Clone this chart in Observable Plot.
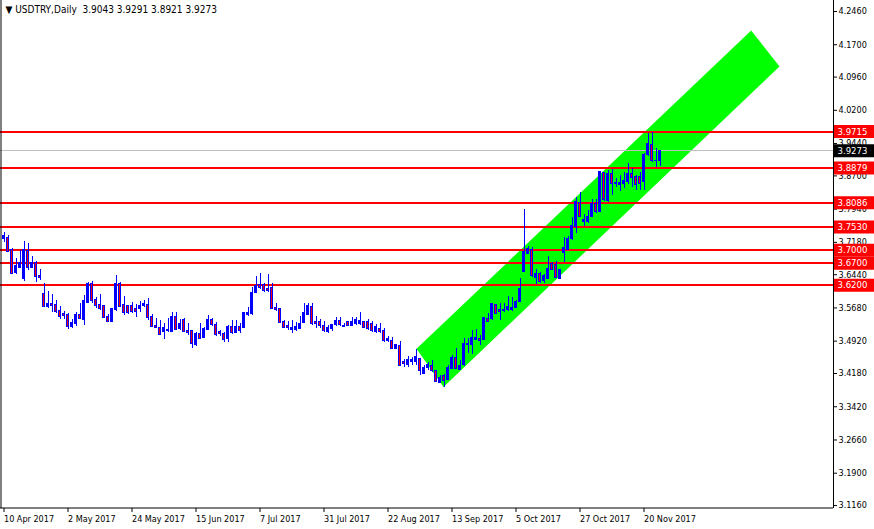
<!DOCTYPE html>
<html><head><meta charset="utf-8">
<script src="https://cdn.jsdelivr.net/npm/d3@7"></script>
<script src="https://cdn.jsdelivr.net/npm/@observablehq/plot@0.6"></script>
<style>html,body{margin:0;padding:0;background:#fff;overflow:hidden}</style>
</head><body><div id="chart"></div>
<script>
// ---- data (daily USDTRY bars, index 0 = 10 Apr 2017) ----
const openP = [3.7261,3.7284,3.6994,3.6476,3.6591,3.6347,3.6972,3.6591,3.6705,3.6400,
 3.6004,3.5699,3.5775,3.5737,3.5600,3.5532,3.5524,3.5242,3.5303,3.5524,
 3.5410,3.5791,3.6217,3.5852,3.5737,3.5714,3.5463,3.5356,3.5623,3.6217,
 3.5753,3.5714,3.5714,3.5661,3.5646,3.5722,3.5737,3.5463,3.5257,3.5227,
 3.5128,3.5143,3.5128,3.5463,3.5204,3.5394,3.5143,3.5158,3.4838,3.5090,
 3.4990,3.5181,3.5410,3.5295,3.5120,3.5073,3.4974,3.5241,3.5104,3.5241,
 3.5218,3.5508,3.5546,3.6018,3.6201,3.6216,3.6117,3.6125,3.5675,3.5645,
 3.5348,3.5271,3.5165,3.5165,3.5203,3.5332,3.5523,3.5698,3.5348,3.5348,
 3.5256,3.5127,3.5203,3.5279,3.5371,3.5271,3.5348,3.5271,3.5317,3.5317,
 3.5348,3.5348,3.5317,3.5127,3.5203,3.5150,3.4913,3.4913,3.4746,3.4799,
 3.4441,3.4365,3.4441,3.4441,3.4502,3.4159,3.4312,3.4342,3.4228,3.3961,
 3.4113,3.4022,3.4289,3.4540,3.4266,3.4365,3.4822,3.4837,3.4952,3.4975,
 3.4936,3.5432,3.5432,3.5737,3.5622,3.5622,3.5638,3.5638,3.5683,3.5813,
 3.6499,3.6918,3.7010,3.6370,3.6461,3.6294,3.6347,3.6674,3.6652,3.6347,
 3.6934,3.7010,3.7261,3.7528,3.8076,3.7643,3.7643,3.7757,3.8062,3.7871,
 3.8763,3.8123,3.8733,3.8535,3.8481,3.8519,3.8557,3.8733,3.8672,3.8672,
 3.8557,3.9167,3.9418,3.9052,3.9043];
const highP = [3.7398,3.7337,3.7048,3.6804,3.6995,3.7200,3.7147,3.6857,3.6743,3.6560,
 3.6233,3.6057,3.5981,3.5852,3.5714,3.5600,3.5562,3.5417,3.5585,3.5775,
 3.5966,3.6255,3.6286,3.5928,3.5989,3.5737,3.5524,3.5661,3.6423,3.6255,
 3.5951,3.5737,3.5798,3.5753,3.5829,3.5852,3.5890,3.5524,3.5448,3.5394,
 3.5333,3.5432,3.5570,3.5570,3.5417,3.5432,3.5318,3.5158,3.5113,3.5318,
 3.5242,3.5509,3.5448,3.5341,3.5160,3.5127,3.5279,3.5393,3.5393,3.5317,
 3.5561,3.5683,3.6155,3.6407,3.6460,3.6232,3.6445,3.6232,3.5774,3.5645,
 3.5393,3.5378,3.5393,3.5355,3.5485,3.5774,3.5774,3.5790,3.5485,3.5409,
 3.5371,3.5279,3.5302,3.5470,3.5470,3.5317,3.5371,3.5454,3.5454,3.5584,
 3.5355,3.5409,3.5371,3.5302,3.5332,3.5203,3.5028,3.5012,3.4845,3.4921,
 3.4494,3.4571,3.4555,3.4731,3.4502,3.4365,3.4441,3.4479,3.4251,3.4136,
 3.4152,3.4365,3.4594,3.4746,3.4479,3.4975,3.4975,3.5165,3.5180,3.5051,
 3.5470,3.5546,3.5775,3.5737,3.5775,3.5775,3.5942,3.5912,3.5851,3.6347,
 3.7924,3.7086,3.7056,3.6553,3.6499,3.6446,3.6857,3.6728,3.6751,3.6553,
 3.7299,3.7315,3.7756,3.8214,3.8328,3.7818,3.7910,3.8154,3.8154,3.8786,
 3.8786,3.8824,3.8839,3.8634,3.8710,3.8786,3.8992,3.8862,3.8710,3.8786,
 3.9205,3.9662,3.9700,3.9319,3.9291];
const lowP = [3.7185,3.6956,3.6461,3.6438,3.6591,3.6293,3.6537,3.6591,3.6271,3.6309,
 3.5699,3.5676,3.5585,3.5547,3.5410,3.5410,3.5181,3.5204,3.5257,3.5417,
 3.5280,3.5791,3.5775,3.5661,3.5623,3.5448,3.5356,3.5356,3.5600,3.5699,
 3.5509,3.5524,3.5547,3.5471,3.5585,3.5699,3.5394,3.5242,3.5204,3.5066,
 3.4960,3.5112,3.5112,3.5181,3.5166,3.5112,3.5051,3.4747,3.4808,3.4975,
 3.4975,3.5166,3.5265,3.5028,3.5030,3.4898,3.4898,3.5073,3.5104,3.5089,
 3.5218,3.5485,3.5508,3.6018,3.6094,3.6041,3.6026,3.5637,3.5599,3.5332,
 3.5203,3.5165,3.5104,3.5150,3.5203,3.5332,3.5508,3.5279,3.5203,3.5203,
 3.5127,3.5104,3.5150,3.5256,3.5256,3.5226,3.5256,3.5256,3.5279,3.5279,
 3.5203,3.5165,3.5127,3.5104,3.5104,3.4898,3.4883,3.4723,3.4723,3.4330,
 3.4312,3.4312,3.4365,3.4365,3.4136,3.4159,3.4251,3.4213,3.3984,3.3946,
 3.3870,3.4022,3.4266,3.4289,3.4251,3.4342,3.4632,3.4616,3.4936,3.4822,
 3.4936,3.5356,3.5394,3.5546,3.5394,3.5584,3.5607,3.5607,3.5660,3.5800,
 3.6499,3.6918,3.6385,3.6217,3.6248,3.6233,3.6347,3.6537,3.6370,3.6347,
 3.6728,3.6994,3.7223,3.7375,3.7756,3.7544,3.7605,3.7742,3.7849,3.7871,
 3.8123,3.8100,3.8253,3.8443,3.8352,3.8405,3.8504,3.8443,3.8367,3.8367,
 3.8367,3.9144,3.9014,3.8900,3.8921];
const closeP = [3.7322,3.6956,3.6461,3.6629,3.6705,3.7010,3.6591,3.6705,3.6385,3.6362,
 3.5699,3.5760,3.5722,3.5585,3.5471,3.5493,3.5242,3.5333,3.5524,3.5417,
 3.5829,3.6233,3.5829,3.5722,3.5661,3.5448,3.5356,3.5646,3.6233,3.5699,
 3.5562,3.5562,3.5585,3.5585,3.5714,3.5760,3.5448,3.5242,3.5219,3.5066,
 3.5219,3.5181,3.5463,3.5181,3.5318,3.5128,3.5112,3.4861,3.5090,3.4975,
 3.5204,3.5410,3.5295,3.5066,3.5090,3.4936,3.5241,3.5104,3.5241,3.5150,
 3.5561,3.5561,3.6018,3.6171,3.6140,3.6064,3.6056,3.5660,3.5622,3.5332,
 3.5218,3.5218,3.5218,3.5241,3.5317,3.5561,3.5713,3.5302,3.5317,3.5256,
 3.5150,3.5226,3.5279,3.5371,3.5279,3.5241,3.5271,3.5355,3.5409,3.5378,
 3.5226,3.5203,3.5142,3.5241,3.5127,3.4913,3.4974,3.4746,3.4822,3.4350,
 3.4403,3.4479,3.4479,3.4555,3.4235,3.4312,3.4365,3.4235,3.3984,3.4075,
 3.4007,3.4312,3.4540,3.4289,3.4342,3.4860,3.4860,3.4997,3.4997,3.4921,
 3.5455,3.5356,3.5759,3.5546,3.5584,3.5607,3.5698,3.5683,3.5813,3.6103,
 3.6956,3.7032,3.6400,3.6461,3.6271,3.6400,3.6576,3.6553,3.6370,3.6537,
 3.7056,3.7261,3.7543,3.8099,3.7756,3.7681,3.7757,3.8062,3.7871,3.8786,
 3.8138,3.8733,3.8504,3.8504,3.8535,3.8573,3.8748,3.8656,3.8481,3.8504,
 3.9167,3.9434,3.9037,3.9030,3.9273];

const dateTickBars = [0,16,32,48,64,80,96,112,128,144,160];
const dateTickLabels = ["10 Apr 2017","2 May 2017","24 May 2017","15 Jun 2017","7 Jul 2017",
  "31 Jul 2017","22 Aug 2017","13 Sep 2017","5 Oct 2017","27 Oct 2017","20 Nov 2017"];
const priceTicks = [4.2460,4.1700,4.0960,4.0200,3.9440,3.8700,3.7940,3.7180,
  3.6440,3.5680,3.4920,3.4180,3.3420,3.2660,3.1900,3.1160];
const levelPrices = [3.9715,3.8879,3.8086,3.7530,3.7000,3.6700,3.6200];
const lastPrice = 3.9273;
const channelBars = [103.125,109.875,193.875,186.8];
const channelPrices = [3.4745,3.3872,4.1202,4.2026];
const symbolName = "USDTRY,Daily";
const headerValues = [3.9043,3.9291,3.8921,3.9273];

// ---- build ----
const bars = openP.map((o,i)=>({i, open:o, high:highP[i], low:lowP[i], close:closeP[i]}));
const channel = channelBars.map((b,k)=>({bar:b, price:channelPrices[k]}));
const BLUE = "#0000ff", RED = "#ff0000";
const W = 874, H = 529, mR = 41, mB = 21;
const pxPerBar = 4;
const xDom = [-3.5/pxPerBar, (W - mR - 3.5)/pxPerBar];
const xOuter = xDom[1] + mR/pxPerBar;
const yDom = [3.10925, 4.2712];
const fontFam = "'DejaVu Sans Condensed','DejaVu Sans',sans-serif";

const chart = Plot.plot({
  width: W, height: H,
  marginLeft: 0, marginRight: mR, marginTop: 0, marginBottom: mB,
  style: {fontFamily: fontFam, fontSize: "9px", background: "#ffffff", color: "#000000", overflow: "visible"},
  x: {domain: xDom, axis: null},
  y: {domain: yDom, axis: null},
  color: {type: "identity"},
  marks: [
    Plot.line(channel, {x: "bar", y: "price", fill: "#00ff00", stroke: "none"}),
    Plot.ruleY([lastPrice], {stroke: "#c0c0c0", strokeWidth: 1, shapeRendering: "crispEdges"}),
    Plot.ruleY(levelPrices, {stroke: RED, strokeWidth: 2, shapeRendering: "crispEdges"}),
    Plot.ruleX(bars, {x: "i", y1: "low", y2: "high", stroke: BLUE, strokeWidth: 1, shapeRendering: "crispEdges"}),
    Plot.rect(bars, {x1: d => d.i - 0.25, x2: d => d.i + 0.25, y1: "open", y2: "close",
      fill: d => d.close >= d.open ? BLUE : RED, stroke: BLUE, strokeWidth: 1, shapeRendering: "crispEdges"}),
    // frame
    Plot.ruleX([xDom[0]], {stroke: "#000", dx: 0.5}),
    Plot.ruleX([xDom[1]], {stroke: "#000"}),
    Plot.ruleY([yDom[0]], {stroke: "#000", dy: -0.5}),
    // axes
    Plot.axisY(priceTicks, {anchor: "right", tickSize: 3, tickPadding: 2, tickFormat: d => d.toFixed(4),
      fontSize: 9, label: null}),
    Plot.axisX(dateTickBars, {anchor: "bottom", tickSize: 4, tickPadding: 3, textAnchor: "start",
      tickFormat: (d) => dateTickLabels[dateTickBars.indexOf(d)], fontSize: 9, label: null}),
    // price labels on the axis
    Plot.ruleY(levelPrices, {x1: xDom[1], x2: xOuter, stroke: RED, strokeWidth: 13, dx: 1}),
    Plot.text(levelPrices, {y: d => d, x: xDom[1], dx: 4, text: d => d.toFixed(4), fill: "#ffffff",
      textAnchor: "start", fontSize: 9.5}),
    Plot.ruleY([lastPrice], {x1: xDom[1], x2: xOuter, stroke: "#000000", strokeWidth: 13, dx: 1}),
    Plot.text([lastPrice], {y: d => d, x: xDom[1], dx: 4, text: d => d.toFixed(4), fill: "#ffffff",
      textAnchor: "start", fontSize: 9.5}),
    // header
    Plot.text([ "\u25BC " + symbolName + "\u00a0\u00a0" + headerValues.map(v => v.toFixed(4)).join(" ")],
      {frameAnchor: "top-left", dx: 5, dy: 5, textAnchor: "start", lineAnchor: "top", fontSize: 10, fill: "#000"})
  ]
});
document.getElementById("chart").appendChild(chart);
</script>
</body></html>
